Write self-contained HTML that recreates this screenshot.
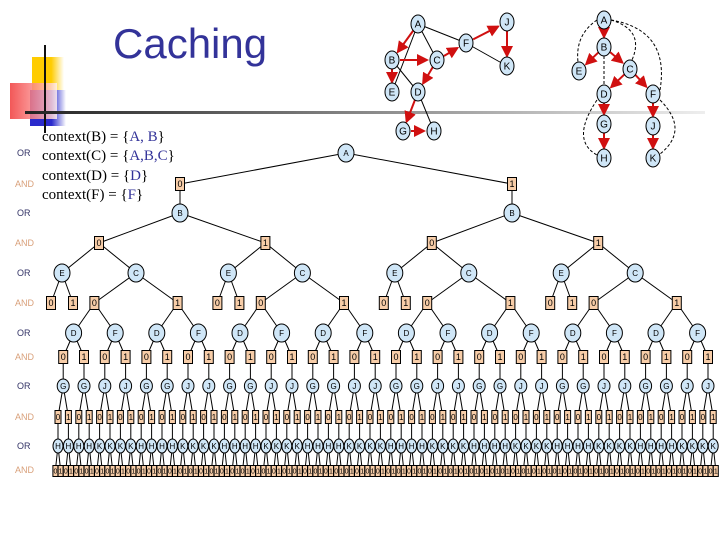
<!DOCTYPE html>
<html><head><meta charset="utf-8">
<style>
body{margin:0;background:#fff;}
#w{position:relative;width:720px;height:540px;overflow:hidden;font-family:"Liberation Sans",sans-serif;}
.ctx{position:absolute;left:42px;font-family:"Liberation Serif",serif;font-size:15px;color:#000;line-height:18px;}
.ctx span{color:#333399;}
</style></head><body>
<div id="w">
<div style="position:absolute;left:32px;top:57px;width:32px;height:34px;background:linear-gradient(90deg,#ffcc00 60%,#fff);"></div>
<div style="position:absolute;left:30px;top:90px;width:36px;height:36px;background:linear-gradient(90deg,#2a2acc 60%,#fff);"></div>
<div style="position:absolute;left:10px;top:83px;width:47px;height:36px;background:linear-gradient(90deg,#f03a3a,#ffaaaa 70%,#fff0f0);opacity:.85"></div>
<div style="position:absolute;left:44px;top:45px;width:2px;height:88px;background:#111;"></div>
<div style="position:absolute;left:25px;top:111px;width:680px;height:3px;background:linear-gradient(90deg,#222,#888 50%,#eee);"></div>
<div style="position:absolute;left:113px;top:20px;font-size:42px;color:#333399;">Caching</div>
<div class="ctx" style="top:128px">context(B) = {<span>A, B</span>}</div>
<div class="ctx" style="top:147px">context(C) = {<span>A,B,C</span>}</div>
<div class="ctx" style="top:167px">context(D) = {<span>D</span>}</div>
<div class="ctx" style="top:186px">context(F) = {<span>F</span>}</div>
<svg id="s" width="720" height="540" style="position:absolute;left:0;top:0" font-family="Liberation Sans, sans-serif"></svg>
</div>
<script>
var s=document.getElementById('s'),h='';
function L(a,b,c,d,st){h+='<line x1="'+a+'" y1="'+b+'" x2="'+c+'" y2="'+d+'" stroke="#000" stroke-width="1" '+(st||'')+'/>';}
function C(x,y,t,rx,ry,fs){h+='<ellipse cx="'+x+'" cy="'+y+'" rx="'+rx+'" ry="'+ry+'" fill="#cfe6f7" stroke="#000"/><text x="'+x+'" y="'+(y+fs*0.36)+'" font-size="'+fs+'" text-anchor="middle">'+t+'</text>';}
function B(x,y,t,w,hh,fs){h+='<rect x="'+(x-w/2)+'" y="'+(y-hh/2)+'" width="'+w+'" height="'+hh+'" fill="#f7cda8" stroke="#000"/><text x="'+x+'" y="'+(y+fs*0.36)+'" font-size="'+fs+'" text-anchor="middle">'+t+'</text>';}
function T(x,y,t,c){h+='<text x="'+x+'" y="'+y+'" font-size="9" fill="'+c+'">'+t+'</text>';}
var rows=[[153,'OR'],[184,'AND'],[213,'OR'],[243,'AND'],[273,'OR'],[303,'AND'],[333,'OR'],[357,'AND'],[386,'OR'],[417,'AND'],[446,'OR'],[470,'AND']];
rows.forEach(function(r){T(r[1]=='OR'?17:15,r[0]+3,r[1],r[1]=='OR'?'#333366':'#d9a07a');});
var X=function(j){return 58+j*10.4;};
var leaf=function(i){return (X(2*i)+X(2*i+1))/2;};
var nodes=[];
var A=346, B0=180,B1=512;
L(A,153,B0,184);L(A,153,B1,184);L(B0,184,B0,213);L(B1,184,B1,213);
for(var q=0;q<4;q++){
 var base=q*8;
 var D1=(leaf(base)+leaf(base+1))/2,F1=(leaf(base+2)+leaf(base+3))/2,D2=(leaf(base+4)+leaf(base+5))/2,F2=(leaf(base+6)+leaf(base+7))/2;
 var a0=(D1+F1)/2,a1=(D2+F2)/2,Cx=(a0+a1)/2,Ex=Cx-74,Ax=(Ex+Cx)/2;
 var Bx=q<2?B0:B1;
 L(Bx,213,Ax,243);L(Ax,243,Ex,273);L(Ax,243,Cx,273);
 L(Ex,273,Ex-11,303);L(Ex,273,Ex+11,303);L(Cx,273,a0,303);L(Cx,273,a1,303);
 L(a0,303,D1,333);L(a0,303,F1,333);L(a1,303,D2,333);L(a1,303,F2,333);
 [[D1,'D',base],[F1,'F',base+2],[D2,'D',base+4],[F2,'F',base+6]].forEach(function(n){
  for(var k=0;k<2;k++){var lx=leaf(n[2]+k);L(n[0],333,lx,357);L(lx,357,lx,386);nodes.push(['B',lx,357,''+k,9,13,9]);
   var lab=n[1]=='D'?'G':'J',hl=n[1]=='D'?'H':'K';nodes.push(['C',lx,386,lab,6,7,8]);
   for(var m=0;m<2;m++){var j=2*(n[2]+k)+m,bx=X(j);L(lx,386,bx,417);L(bx,417,bx,446);nodes.push(['B',bx,417,''+m,6,13,8]);nodes.push(['C',bx,446,hl,5,7,8]);
    for(var p=0;p<2;p++){var tx=bx+(p?2.6:-2.6);L(bx,446,tx,470);nodes.push(['B',tx,471,''+p,5,11,7]);}}
  }
  nodes.push(['C',n[0],333,n[1],8,9,8]);
 });
 nodes.push(['B',Ax,243,''+(q%2),9,13,9]);nodes.push(['C',Ex,273,'E',8,9,8]);nodes.push(['C',Cx,273,'C',8,9,8]);
 nodes.push(['B',Ex-11,303,'0',9,13,9]);nodes.push(['B',Ex+11,303,'1',9,13,9]);nodes.push(['B',a0,303,'0',9,13,9]);nodes.push(['B',a1,303,'1',9,13,9]);
}
nodes.push(['C',A,153,'A',8,9,8]);nodes.push(['B',B0,184,'0',9,13,9]);nodes.push(['B',B1,184,'1',9,13,9]);
nodes.push(['C',B0,213,'B',8,9,8]);nodes.push(['C',B1,213,'B',8,9,8]);
nodes.forEach(function(n){if(n[0]=='B')B(n[1],n[2],n[3],n[4],n[5],n[6]);else C(n[1],n[2],n[3],n[4],n[5],n[6]);});
h+='<defs><marker id="ar" markerWidth="6" markerHeight="6" refX="5" refY="3" orient="auto"><path d="M0,0L6,3L0,6z" fill="#d01010"/></marker></defs>';
function R(a,b,c,d){var dx=c-a,dy=d-b,l=Math.sqrt(dx*dx+dy*dy);h+='<line x1="'+(a+dx/l*8)+'" y1="'+(b+dy/l*8)+'" x2="'+(c-dx/l*10)+'" y2="'+(d-dy/l*10)+'" stroke="#d01010" stroke-width="2" marker-end="url(#ar)"/>';}
var g={A:[418,24],J:[507,22],F:[466,43],B:[392,60],C:[437,60],K:[507,66],E:[392,92],D:[418,92],G:[403,131],H:[434,131]};
L(418,24,466,43);L(418,24,437,60);L(418,24,392,92);L(392,60,418,92);L(466,43,507,66);L(418,92,434,131);
[['A','B'],['B','C'],['B','E'],['C','F'],['F','J'],['J','K'],['C','D'],['D','G'],['G','H']].forEach(function(e){R(g[e[0]][0],g[e[0]][1],g[e[1]][0],g[e[1]][1]);});
var r={A:[604,20],B:[604,47],E:[579,71],C:[630,69],D:[604,94],F:[653,94],G:[604,124],J:[653,126],H:[604,158],K:[653,158]};
var ds='fill="none" stroke="#000" stroke-dasharray="3,2"';
h+='<path d="M611,20 Q645,30 632,60" '+ds+'/><path d="M611,20 Q670,30 660,90" '+ds+'/><path d="M597,20 Q575,35 578,62" '+ds+'/>';
h+='<line x1="604" y1="56" x2="604" y2="85" stroke="#000" stroke-dasharray="3,2"/><path d="M597,100 Q570,140 597,155" '+ds+'/><path d="M660,100 Q690,130 660,154" '+ds+'/>';
[['A','B'],['B','E'],['B','C'],['C','D'],['C','F'],['D','G'],['G','H'],['F','J'],['J','K']].forEach(function(e){R(r[e[0]][0],r[e[0]][1],r[e[1]][0],r[e[1]][1]);});
for(var k in g)C(g[k][0],g[k][1],k,7,9,10);
for(var k in r)C(r[k][0],r[k][1],k,7,9,10);
s.innerHTML=h;
</script>
</body></html>
